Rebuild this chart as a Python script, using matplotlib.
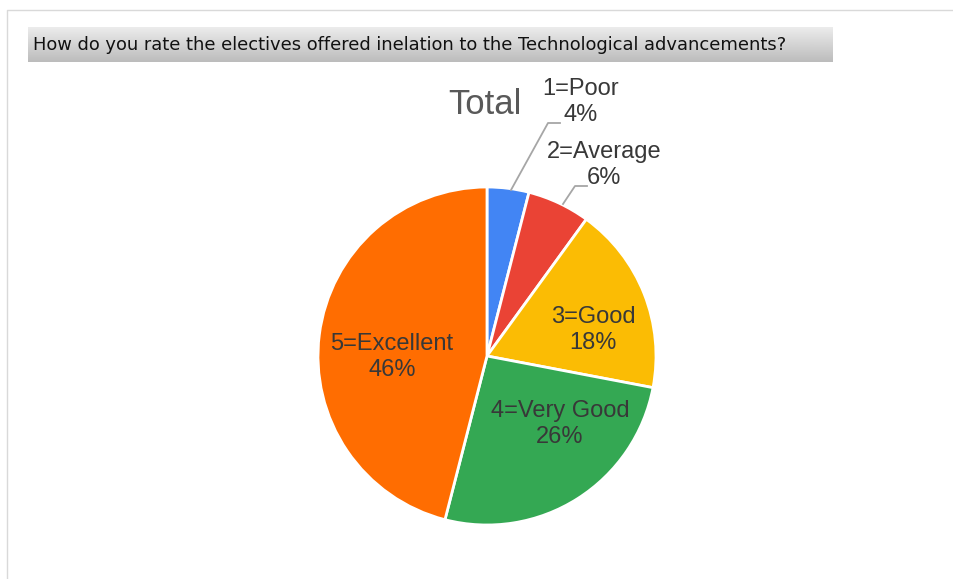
import matplotlib
matplotlib.use("Agg")
import matplotlib.pyplot as plt
import numpy as np
from matplotlib.colors import LinearSegmentedColormap

categories = ["1=Poor", "2=Average", "3=Good", "4=Very Good", "5=Excellent"]
values = [4, 6, 18, 26, 46]
colors = ["#4285F4", "#EA4335", "#FBBC04", "#34A853", "#FF6D01"]
question = "How do you rate the electives offered inelation to the Technological advancements?"
chart_title = "Total"

W, H = 954, 579
fig = plt.figure(figsize=(W/100, H/100), dpi=100)
plt.rcParams['font.family'] = ['Liberation Sans', 'DejaVu Sans']

# outer border
bax = fig.add_axes([0, 0, 1, 1])
bax.set_xlim(0, W); bax.set_ylim(H, 0); bax.axis('off')
bax.plot([7, 7, W + 5], [H + 5, 10, 10], color="#d9d9d9", lw=1)

# title bar with gradient
grad = np.linspace(0, 1, 100).reshape(-1, 1)
cmap = LinearSegmentedColormap.from_list("g", ["#ececec", "#bcbcbc"])
bax.imshow(grad, cmap=cmap, extent=[28, 833, 62, 27], aspect='auto', zorder=1)
bax.set_xlim(0, W); bax.set_ylim(H, 0)
bax.text(33, 45, question, fontsize=12.85, color="#111111", va='center', ha='left',
         zorder=2, family='DejaVu Sans')

# pie
cx, cy, R = 487, 356, 169
ax = fig.add_axes([(cx - R)/W, (H - cy - R)/H, 2*R/W, 2*R/H])
wedges, _ = ax.pie(values, colors=colors, startangle=90, counterclock=False, radius=1,
                   wedgeprops=dict(edgecolor='white', linewidth=2))
ax.set_xlim(-1, 1); ax.set_ylim(-1, 1)
ax.set_aspect('equal'); ax.axis('off')

def d(px, py):
    return ((px - cx)/R, (cy - py)/R)

lab_color = "#383838"
fs = 17
ls = 1.22
ax.text(*d(485, 104), chart_title, fontsize=25, color="#595959", ha='center', va='center')

inside = {2: (593, 330), 3: (560, 424), 4: (392, 357)}
for i, (px, py) in inside.items():
    ax.text(*d(px, py), f"{categories[i]}\n{values[i]}%", fontsize=fs, color=lab_color,
            ha='center', va='center', linespacing=ls)

outside = {0: (581, 102), 1: (604, 165)}
for i, (px, py) in outside.items():
    ax.text(*d(px, py), f"{categories[i]}\n{values[i]}%", fontsize=fs, color=lab_color,
            ha='center', va='center', linespacing=ls)

# leader lines
for pts in ([(511, 190), (548, 123), (560, 123)], [(563, 204), (575, 186), (587, 186)]):
    xs, ys = zip(*[d(*p) for p in pts])
    ax.plot(xs, ys, color="#a6a6a6", lw=1.3, clip_on=False)

fig.savefig("out.png", dpi=100)
